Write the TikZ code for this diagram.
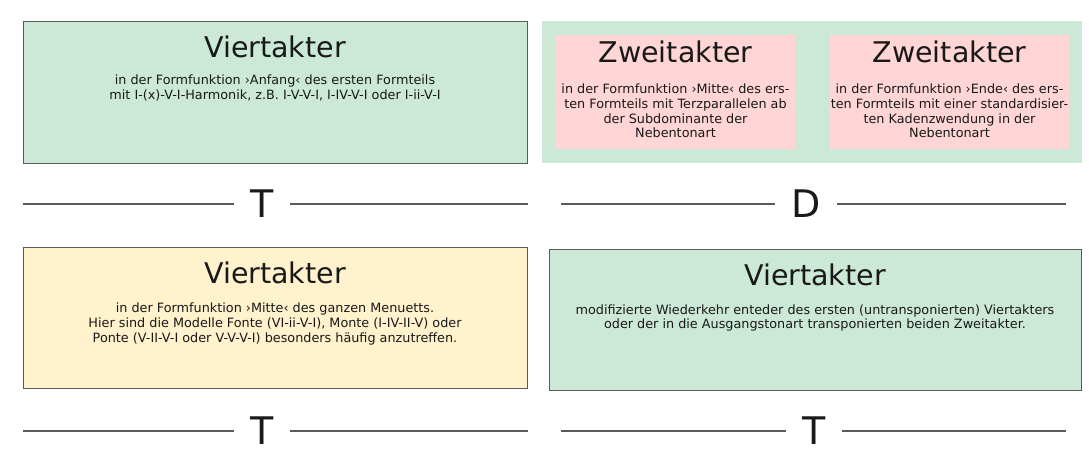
\documentclass[tikz,border=0pt]{standalone}
\usepackage{fontspec}
\setmainfont{DejaVu Sans}
\definecolor{formgreen}{HTML}{CCE8D7}
\definecolor{formpink}{HTML}{FFD5D5}
\definecolor{formyellow}{HTML}{FFF2CC}
\definecolor{formline}{HTML}{5A5A5A}
\tikzset{
  formbox/.style={draw=formline,line width=1pt,rectangle,inner sep=0pt},
  phrasetitle/.style={font=\fontsize{28.5}{34}\selectfont,text=black!90,inner sep=0pt},
  phrasetext/.style={font=\fontsize{12.8}{14.6}\selectfont,text=black!90,align=center,inner sep=0pt},
  degree/.style={font=\fontsize{38}{40}\selectfont,text=black!90,inner xsep=16pt,inner ysep=0pt},
  axis/.style={draw=formline,line width=1.2pt}
}
\begin{document}
\begin{tikzpicture}[x=1pt,y=-1pt]
      \useasboundingbox (0,0) rectangle (1089,464);

      \node[formbox,fill=formgreen,minimum width=504pt,minimum height=142pt] (vier1) at (275,92) {};
      \node[phrasetitle] (vier1t) at (275,47) {Viertakter};
      \node[phrasetext] (vier1b) at (275,88) {in der Formfunktion ›Anfang‹ des ersten Formteils\\mit I-(x)-V-I-Harmonik, z.B. I-V-V-I, I-IV-V-I oder I-ii-V-I};

      \node[rectangle,fill=formgreen,minimum width=270pt,minimum height=142pt,inner sep=0pt] (zwei1bg) at (677,92) {};
      \node[rectangle,fill=formgreen,minimum width=270pt,minimum height=142pt,inner sep=0pt] (zwei2bg) at (947,92) {};
      \node[rectangle,fill=formpink,minimum width=239pt,minimum height=114pt,inner sep=0pt] (zwei1) at (675.5,92) {};
      \node[rectangle,fill=formpink,minimum width=239pt,minimum height=114pt,inner sep=0pt] (zwei2) at (949.5,92) {};
      \node[phrasetitle] (zwei1t) at (675.5,52) {Zweitakter};
      \node[phrasetitle] (zwei2t) at (949.5,52) {Zweitakter};
      \node[phrasetext] (zwei1b) at (675.5,111) {in der Formfunktion ›Mitte‹ des ers-\\ten Formteils mit Terzparallelen ab\\der Subdominante der\\Nebentonart};
      \node[phrasetext] (zwei2b) at (949.5,111) {in der Formfunktion ›Ende‹ des ers-\\ten Formteils mit einer standardisier-\\ten Kadenzwendung in der\\Nebentonart};

      \node[formbox,fill=formyellow,minimum width=504pt,minimum height=141pt] (vier2) at (275,317.5) {};
      \node[phrasetitle] (vier2t) at (275,273) {Viertakter};
      \node[phrasetext] (vier2b) at (275,324) {in der Formfunktion ›Mitte‹ des ganzen Menuetts.\\Hier sind die Modelle Fonte (VI-ii-V-I), Monte (I-IV-II-V) oder\\Ponte (V-II-V-I oder V-V-V-I) besonders häufig anzutreffen.};

      \node[formbox,fill=formgreen,minimum width=532pt,minimum height=141pt] (vier3) at (815,319.5) {};
      \node[phrasetitle] (vier3t) at (815,275) {Viertakter};
      \node[phrasetext] (vier3b) at (815,318) {modifizierte Wiederkehr enteder des ersten (untransponierten) Viertakters\\oder der in die Ausgangstonart transponierten beiden Zweitakter.};

      \node[degree] (tonika1) at (262,204) {T};
      \node[degree] (dominante) at (806,204) {D};
      \node[degree] (tonika2) at (262,431) {T};
      \node[degree] (tonika3) at (814,431) {T};
      \coordinate (a1) at (23,204);
      \coordinate (b1) at (528,204);
      \coordinate (a2) at (561,204);
      \coordinate (b2) at (1066,204);
      \coordinate (a3) at (23,431);
      \coordinate (b3) at (528,431);
      \coordinate (a4) at (561,431);
      \coordinate (b4) at (1066,431);

      \draw[axis] (a1) -- (tonika1);
      \draw[axis] (tonika1) -- (b1);
      \draw[axis] (a2) -- (dominante);
      \draw[axis] (dominante) -- (b2);
      \draw[axis] (a3) -- (tonika2);
      \draw[axis] (tonika2) -- (b3);
      \draw[axis] (a4) -- (tonika3);
      \draw[axis] (tonika3) -- (b4);

   \end{tikzpicture}
\end{document}
